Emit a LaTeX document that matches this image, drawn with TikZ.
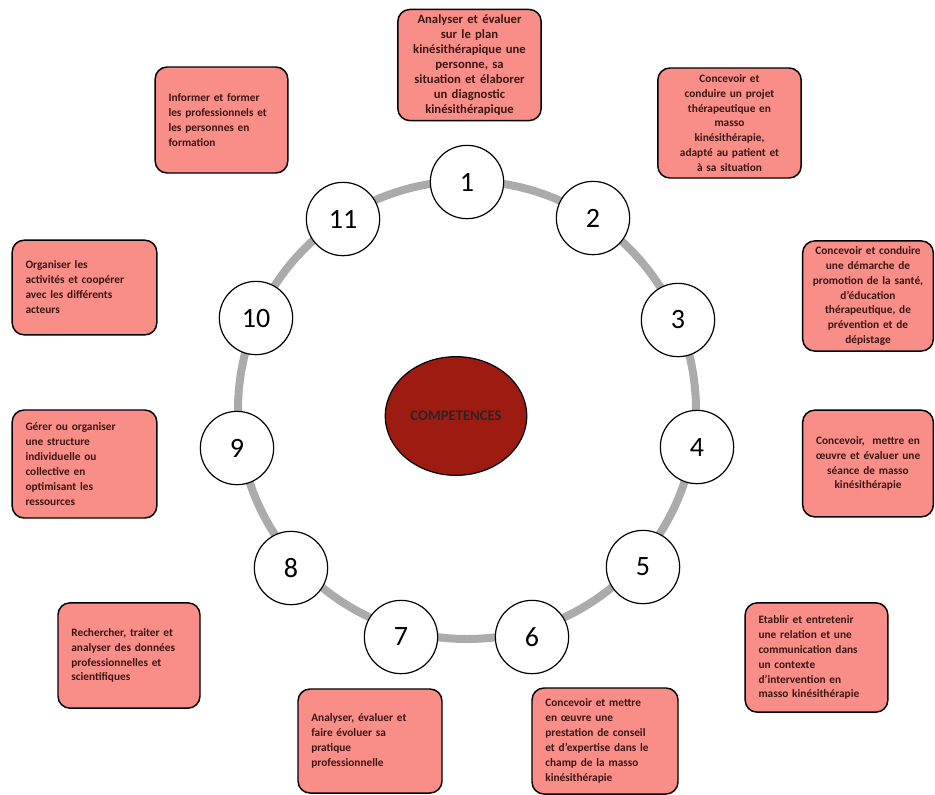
\documentclass[tikz,border=0pt]{standalone}
\usepackage{fontspec}
\setmainfont{Carlito}
\usetikzlibrary{shapes.geometric}

\definecolor{boxred}{HTML}{F98E89}
\definecolor{coredred}{HTML}{9E1B12}
\definecolor{ringgray}{HTML}{ABABAB}
\definecolor{textdark}{HTML}{3A1512}

\tikzset{
  compbox/.style={draw=black, line width=1.1pt, rounded corners=9pt, fill=boxred,
    text=textdark, font=\fontsize{8.5}{11.2}\selectfont\bfseries,
    inner xsep=10pt, inner ysep=4pt, text width=#1},
  midbox/.style={compbox=#1, inner xsep=4pt, align=center},
  numcirc/.style={circle, draw=black, line width=0.9pt, fill=white,
    minimum size=55pt, inner sep=0pt, font=\fontsize{21}{24}\selectfont},
}

\begin{document}
\begin{tikzpicture}[x=0.75pt, y=-0.75pt]
    \useasboundingbox (0,0) rectangle (935,794);

    % ring and core
    \coordinate (mid) at (467,410);
    \draw[ringgray, line width=6pt] (mid) circle (171.75pt);
    \node[ellipse, draw=black, line width=0.9pt, fill=coredred, minimum width=98pt,
          minimum height=89pt, text=black!85, font=\fontsize{11}{12}\selectfont\bfseries] (core) at (456,416) {COMPETENCES};

    % numbered circles
    \foreach \n / \x / \y in {1/467/182, 2/593/218, 3/678/320, 4/697/447, 5/643/567, 6/532/637,
                              7/401/637, 8/291/568, 9/237/448, 10/256/318, 11/343/219}
        \node[numcirc] (c\n) at (\x, \y) {\n};

    % competences
    \node[midbox=99.5pt, minimum height=79.5pt, font=\fontsize{9.5}{11.2}\selectfont\bfseries] (b1) at (469.5,65)
        {Analyser et évaluer\\ sur le plan\\ kinésithérapique une\\ personne, sa\\ situation et élaborer\\ un diagnostic\\ kinésithérapique};
    \node[midbox=99.5pt, minimum height=82.5pt] (b2) at (729.5,123)
        {Concevoir et\\ conduire un projet\\ thérapeutique en\\ masso\\ kinésithérapie,\\ adapté au patient et\\ à sa situation};
    \node[midbox=90pt, minimum height=81pt] (b3) at (868,296)
        {Concevoir et conduire\\ une démarche de\\ promotion de la santé,\\ d’éducation\\ thérapeutique, de\\ prévention et de\\ dépistage};
    \node[midbox=90pt, minimum height=80pt] (b4) at (868,463.5)
        {Concevoir,~ mettre en\\ œuvre et évaluer une\\ séance de masso\\ kinésithérapie\\[18pt]};
    \node[compbox=87pt, minimum height=82pt, align=left] (b5) at (816.5,657.5)
        {Etablir et entretenir\\ une relation et une\\ communication dans\\ un contexte\\ d’intervention en\\ masso kinésithérapie};
    \node[compbox=89.5pt, minimum height=79.5pt, align=left] (b6) at (605,741)
        {Concevoir et mettre\\ en œuvre une\\ prestation de conseil\\ et d’expertise dans le\\ champ de la masso\\ kinésithérapie};
    \node[compbox=88pt, minimum height=78pt, align=left] (b7) at (370,741)
        {Analyser, évaluer et\\ faire évoluer sa\\ pratique\\ professionnelle};
    \node[compbox=86.5pt, minimum height=79pt, align=left] (b8) at (129,655.5)
        {Rechercher, traiter et\\ analyser des données\\ professionnelles et\\ scientifiques};
    \node[compbox=88.5pt, minimum height=81pt, align=left] (b9) at (84.5,464)
        {Gérer ou organiser\\ une structure\\ individuelle ou\\ collective en\\ optimisant les\\ ressources};
    \node[compbox=88.5pt, minimum height=71pt, align=left] (b10) at (84.5,287.5)
        {\\[-6pt] Organiser les\\ activités et coopérer\\ avec les différents\\ acteurs};
    \node[compbox=79.5pt, minimum height=79.5pt, align=left] (b11) at (221.5,120)
        {Informer et former\\ les professionnels et\\ les personnes en\\ formation};

\end{tikzpicture}
\end{document}
